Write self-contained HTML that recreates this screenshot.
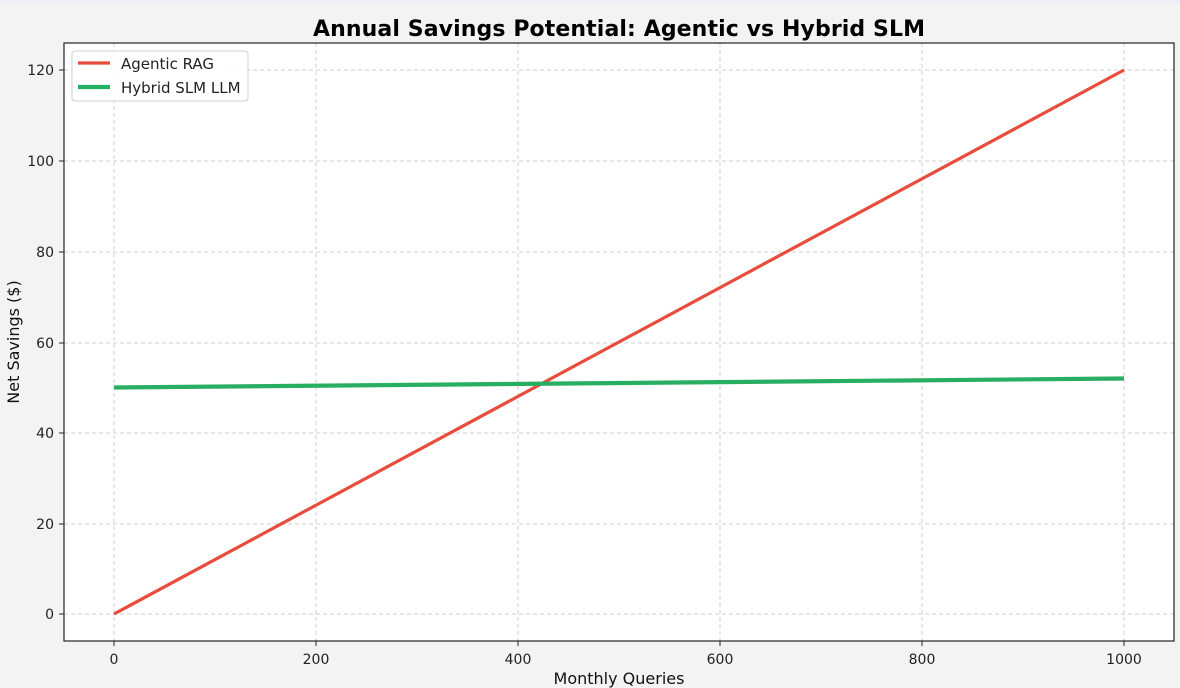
<!DOCTYPE html>
<html><head><meta charset="utf-8"><style>
html,body{margin:0;padding:0;background:#f3f3f3;}
svg{display:block;font-family:"DejaVu Sans","Liberation Sans",sans-serif;}
</style></head><body>
<svg width="1180" height="688" viewBox="0 0 1180 688">
<rect x="0" y="0" width="1180" height="688" fill="#f3f3f3"/>
<rect x="0" y="0" width="1180" height="5" fill="#eef0f6"/>
<rect x="64" y="43" width="1110" height="598" fill="#ffffff"/>
<g stroke="#cfcfcf" stroke-width="1" stroke-dasharray="4,3">
<line x1="114" y1="43" x2="114" y2="641"/>
<line x1="316" y1="43" x2="316" y2="641"/>
<line x1="518" y1="43" x2="518" y2="641"/>
<line x1="720" y1="43" x2="720" y2="641"/>
<line x1="922" y1="43" x2="922" y2="641"/>
<line x1="1124" y1="43" x2="1124" y2="641"/>
<line x1="64" y1="614" x2="1174" y2="614"/>
<line x1="64" y1="524" x2="1174" y2="524"/>
<line x1="64" y1="433" x2="1174" y2="433"/>
<line x1="64" y1="343" x2="1174" y2="343"/>
<line x1="64" y1="252" x2="1174" y2="252"/>
<line x1="64" y1="161" x2="1174" y2="161"/>
<line x1="64" y1="70" x2="1174" y2="70"/>
</g>
<line x1="114" y1="614" x2="1124" y2="70" stroke="#e74c3c" stroke-width="3.2"/>
<line x1="114" y1="387.5" x2="1124" y2="378.5" stroke="#27ae60" stroke-width="4.2"/>
<rect x="64" y="43" width="1110" height="598" fill="none" stroke="#222" stroke-width="1.2"/>
<g stroke="#222" stroke-width="1">
<line x1="114" y1="641" x2="114" y2="646"/><line x1="316" y1="641" x2="316" y2="646"/>
<line x1="518" y1="641" x2="518" y2="646"/><line x1="720" y1="641" x2="720" y2="646"/>
<line x1="922" y1="641" x2="922" y2="646"/><line x1="1124" y1="641" x2="1124" y2="646"/>
<line x1="59" y1="614" x2="64" y2="614"/><line x1="59" y1="524" x2="64" y2="524"/>
<line x1="59" y1="433" x2="64" y2="433"/><line x1="59" y1="343" x2="64" y2="343"/>
<line x1="59" y1="252" x2="64" y2="252"/><line x1="59" y1="161" x2="64" y2="161"/>
<line x1="59" y1="70" x2="64" y2="70"/>
</g>
<g font-size="14" fill="#222" text-anchor="middle">
<text x="114" y="664">0</text><text x="316" y="664">200</text><text x="518" y="664">400</text>
<text x="720" y="664">600</text><text x="922" y="664">800</text><text x="1124" y="664">1000</text>
</g>
<g font-size="14" fill="#222" text-anchor="end">
<text x="54" y="619">0</text><text x="54" y="529">20</text><text x="54" y="438">40</text>
<text x="54" y="348">60</text><text x="54" y="257">80</text><text x="54" y="166">100</text>
<text x="54" y="75">120</text>
</g>
<text x="619" y="684" font-size="16" text-anchor="middle" fill="#111">Monthly Queries</text>
<text transform="translate(19,342) rotate(-90)" font-size="16" text-anchor="middle" fill="#111">Net Savings ($)</text>
<text x="619" y="36" font-size="22" font-weight="bold" text-anchor="middle" fill="#000" textLength="612">Annual Savings Potential: Agentic vs Hybrid SLM</text>
<rect x="72" y="51" width="176" height="50" rx="3" fill="#fff" fill-opacity="0.9" stroke="#d0d0d0"/>
<line x1="78" y1="63" x2="110" y2="63" stroke="#e74c3c" stroke-width="3.2"/>
<line x1="78" y1="87" x2="110" y2="87" stroke="#27ae60" stroke-width="4.2"/>
<text x="121" y="69" font-size="15" fill="#222">Agentic RAG</text>
<text x="121" y="93" font-size="15" fill="#222">Hybrid SLM LLM</text>
</svg>
</body></html>
